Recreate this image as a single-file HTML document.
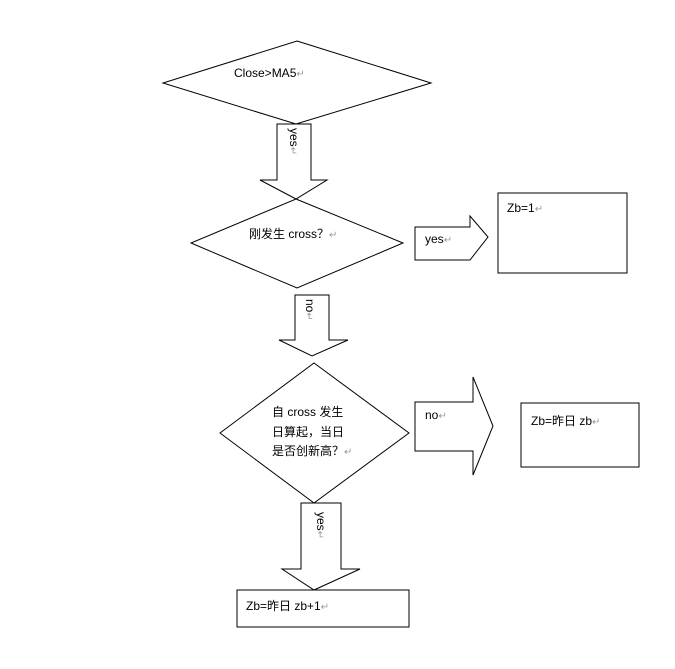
<!DOCTYPE html>
<html><head><meta charset="utf-8"><style>
html,body{margin:0;padding:0;background:#fff;width:675px;height:669px;overflow:hidden}
svg{display:block}
text{font-family:"Liberation Sans","Noto Sans CJK SC",sans-serif;font-size:12px;fill:#000}
.r{fill:#999;font-size:10px}
</style></head><body>
<svg width="675" height="669" viewBox="0 0 675 669" xmlns="http://www.w3.org/2000/svg">
<g fill="#fff" stroke="#000" stroke-width="1">
<polygon points="297,41 431,83 296,124 163,83"/>
<polygon points="277,124 311,124 311,180 327,180 296,199 260,180 277,180"/>
<polygon points="296,199 403,243 297,288 191,243"/>
<polygon points="415,227 470,227 470,216 488,237 470,260 415,260 415,249 415,227" />
<rect x="498" y="193" width="129" height="80"/>
<polygon points="295,295 329,295 329,340 348,340 312,356 279,340 295,340"/>
<polygon points="314,363 409,433 314,503 220,433"/>
<polygon points="415,402 473,402 473,377 493,426 473,475 473,451 415,451"/>
<rect x="521" y="403" width="118" height="64"/>
<polygon points="301,503 341,503 341,569 360,569 314,590 282,569 301,569"/>
<rect x="237" y="590" width="172" height="37"/>
</g>
<text x="234" y="77">Close&gt;MA5<tspan class="r">↵</tspan></text>
<text transform="translate(290,128) rotate(90)">yes<tspan class="r">↵</tspan></text>
<text x="249" y="238">刚发生 cross？<tspan class="r">↵</tspan></text>
<text x="425" y="243">yes<tspan class="r">↵</tspan></text>
<text x="507" y="212">Zb=1<tspan class="r">↵</tspan></text>
<text transform="translate(306,299) rotate(90)">no<tspan class="r">↵</tspan></text>
<text x="272" y="416">自  cross  发生</text>
<text x="272" y="436">日算起，当日</text>
<text x="272" y="455">是否创新高？<tspan class="r">↵</tspan></text>
<text x="425" y="419">no<tspan class="r">↵</tspan></text>
<text x="531" y="425">Zb=昨日 zb<tspan class="r">↵</tspan></text>
<text transform="translate(317,512) rotate(90)">yes<tspan class="r">↵</tspan></text>
<text x="246" y="610">Zb=昨日 zb+1<tspan class="r">↵</tspan></text>
</svg>
</body></html>
